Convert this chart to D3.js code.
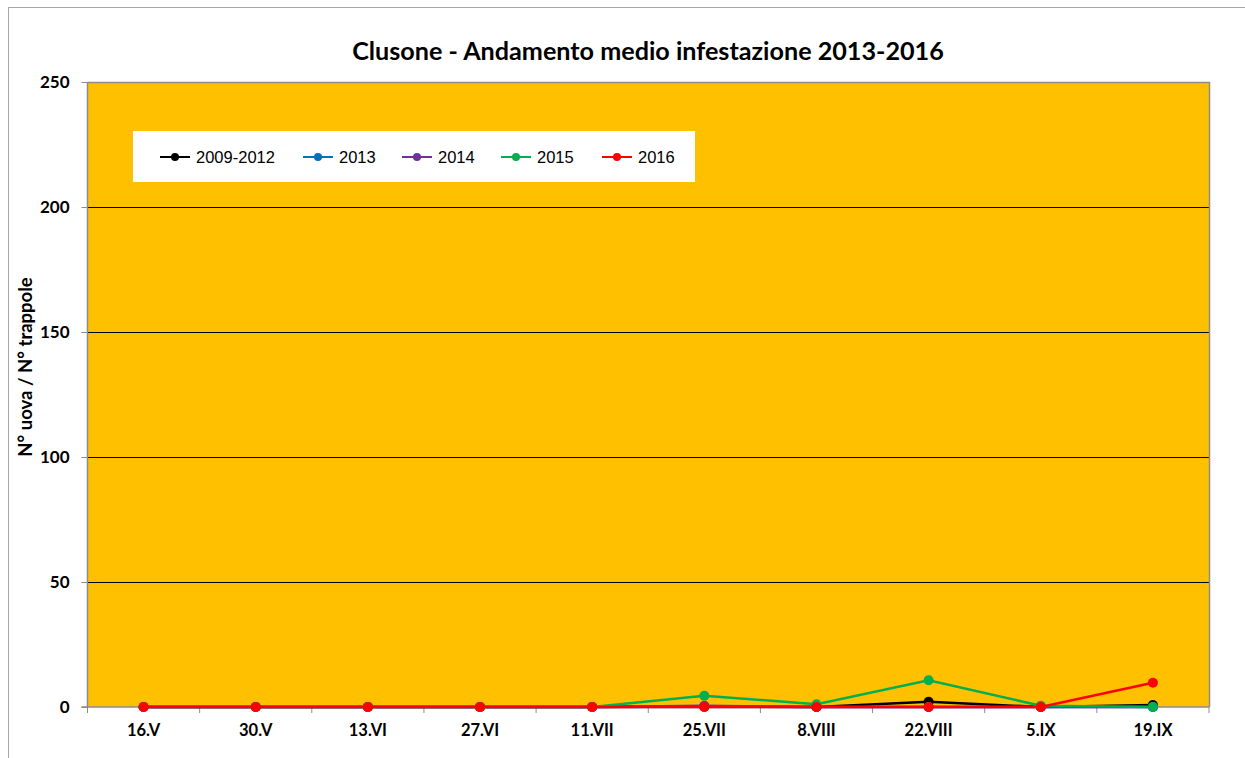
<!DOCTYPE html>
<html><head><meta charset="utf-8">
<script src="https://cdn.jsdelivr.net/npm/d3@7"></script>
<style>body{margin:0;background:#fff}svg{display:block}</style>
</head><body>
<svg id="c" width="1245" height="758"></svg>
<script>
const categories = ["16.V","30.V","13.VI","27.VI","11.VII","25.VII","8.VIII","22.VIII","5.IX","19.IX"];
const s2009_2012 = [0,0,0,0,0,0.2,0,2.1,0,0.8];
const s2013 = [0,0,0,0,0,0,0,0,0,0];
const s2014 = [0,0,0,0,0,0.5,0,0,0,0];
const s2015 = [0,0,0,0,0,4.5,1.1,10.7,0.5,0];
const s2016 = [0,0,0,0,0,0,0,0,0,9.7];
const seriesNames = ["2009-2012","2013","2014","2015","2016"];
const seriesColors = ["#000000","#0070C0","#7030A0","#00B050","#FF0000"];
const yTicks = [0,50,100,150,200,250];
const title = "Clusone - Andamento medio infestazione 2013-2016";
const yTitle = "N° uova / N° trappole";

const series = [s2009_2012,s2013,s2014,s2015,s2016].map((v,i)=>({name:seriesNames[i],color:seriesColors[i],values:v}));

const svg = d3.select("#c");
const L=87.5, R=1209, T=82, B=707;

svg.append("rect").attr("x",8.5).attr("y",7.5).attr("width",1400).attr("height",900)
  .attr("fill","none").attr("stroke","#a6a6a6").attr("stroke-width",1);

const x = d3.scaleBand().domain(categories).range([L,R]).padding(0);
const y = d3.scaleLinear().domain([0,250]).range([B,T]);

svg.append("rect").attr("x",L).attr("y",T).attr("width",R-L).attr("height",B-T).attr("fill","#FFC000");

svg.append("g").selectAll("line").data(yTicks.filter(d=>d>0&&d<250)).join("line")
  .attr("x1",L).attr("x2",R).attr("y1",d=>Math.round(y(d))+0.5).attr("y2",d=>Math.round(y(d))+0.5)
  .attr("stroke","#000").attr("stroke-width",1);

svg.append("path").attr("d",`M${L},${T+0.5}H${R+0.5}V${B}`).attr("fill","none").attr("stroke","#8c8c8c").attr("stroke-width",1.5);

const yAxis = d3.axisLeft(y).tickValues(yTicks).tickSize(6).tickPadding(10);
const gy = svg.append("g").attr("transform",`translate(${L},0)`).call(yAxis);
gy.select(".domain").attr("stroke","#8c8c8c").attr("stroke-width",1.5).attr("d",`M0,${T}V${B}`);
gy.selectAll(".tick line").attr("stroke","#8c8c8c");
gy.selectAll(".tick text").attr("font-family","Lato, 'Open Sans', sans-serif").attr("font-weight","bold")
  .attr("font-size",17).attr("fill","#000").attr("dx",-2);

const xAxis = d3.axisBottom(x).tickSize(0).tickPadding(17);
const gx = svg.append("g").attr("transform",`translate(0,${B})`).call(xAxis);
gx.select(".domain").attr("stroke","#8c8c8c").attr("stroke-width",1.5).attr("d",`M${L-6},0H${R}`);
gx.selectAll(".tick text").attr("font-family","Lato, 'Open Sans', sans-serif").attr("font-weight","bold")
  .attr("font-size",16.5).attr("fill","#000");
gx.append("g").selectAll("line").data(categories.concat(["_end"])).join("line")
  .attr("x1",(d,i)=>i<categories.length?x(d):R).attr("x2",(d,i)=>i<categories.length?x(d):R)
  .attr("y1",0).attr("y2",6).attr("stroke","#8c8c8c").attr("stroke-width",1);

const line = d3.line().x((d,i)=>x(categories[i])+x.bandwidth()/2).y(d=>y(d));
const gs = svg.append("g").selectAll("g").data(series).join("g");
gs.append("path").attr("d",d=>line(d.values)).attr("fill","none").attr("stroke",d=>d.color).attr("stroke-width",2.5);
gs.selectAll("circle").data(d=>d.values.map(v=>({v,c:d.color}))).join("circle")
  .attr("cx",(d,i)=>x(categories[i])+x.bandwidth()/2).attr("cy",d=>y(d.v)).attr("r",5).attr("fill",d=>d.c);

const tt = svg.append("text").attr("x",648).attr("y",60).attr("text-anchor","middle")
  .attr("font-family","Lato, 'Open Sans', sans-serif").attr("font-weight","bold").attr("font-size",22).text(title);
const tw = tt.node().getComputedTextLength();
tt.attr("font-size",22*592/tw);

svg.append("text").attr("transform","translate(32,367) rotate(-90)").attr("text-anchor","middle")
  .attr("font-family","Lato, 'Open Sans', sans-serif").attr("font-weight","bold").attr("font-size",18.5).text(yTitle);

const lg = svg.append("g");
lg.append("rect").attr("x",133).attr("y",131).attr("width",562).attr("height",51).attr("fill","#fff");
const lx = [160,303,402,501,602];
const li = lg.selectAll("g").data(series).join("g").attr("transform",(d,i)=>`translate(${lx[i]},157)`);
li.append("line").attr("x1",0).attr("x2",30).attr("stroke",d=>d.color).attr("stroke-width",2);
li.append("circle").attr("cx",15).attr("r",4).attr("fill",d=>d.color);
li.append("text").attr("x",36).attr("dy","0.35em").attr("font-family","'Liberation Sans', Arial, sans-serif")
  .attr("font-size",16.5).attr("fill","#000").text(d=>d.name);
</script>
</body></html>
